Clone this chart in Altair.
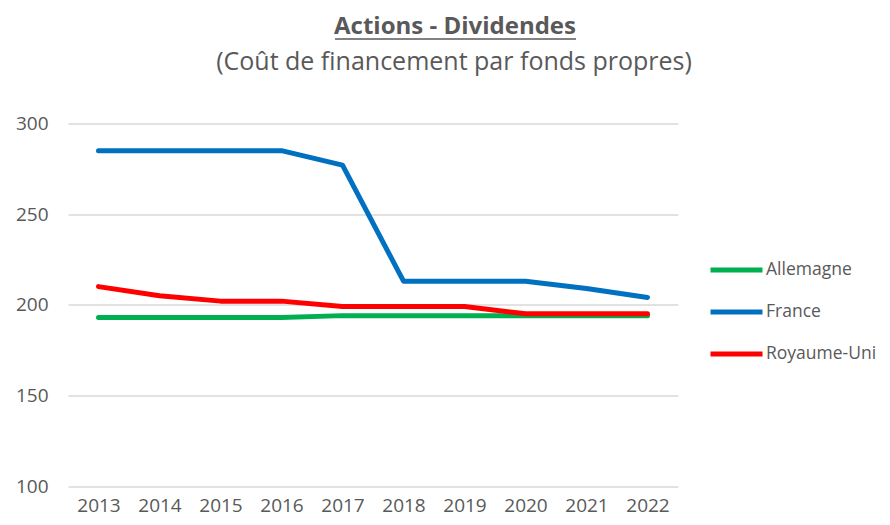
import altair as alt
import pandas as pd

years = ["2013", "2014", "2015", "2016", "2017", "2018", "2019", "2020", "2021", "2022"]
allemagne = [193, 193, 193, 193, 194, 194, 194, 194, 194, 194]
france = [285, 285, 285, 285, 277, 213, 213, 213, 209, 204]
royaume_uni = [210, 205, 202, 202, 199, 199, 199, 195, 195, 195]

series = ["Allemagne", "France", "Royaume-Uni"]
colors = ["#00B050", "#0070C0", "#FF0000"]
title_text = "Actions - Dividendes"
subtitle_text = "(Coût de financement par fonds propres)"

rows = []
for name, vals in zip(series, [allemagne, france, royaume_uni]):
    for y, v in zip(years, vals):
        rows.append({"Année": y, "Valeur": v, "Pays": name})
df = pd.DataFrame(rows)

FONT = "Open Sans"
GREY = "#595959"

lines = alt.Chart(df).mark_line(strokeWidth=5, strokeCap="round", strokeJoin="round").encode(
    x=alt.X("Année:O", sort=years, scale=alt.Scale(paddingInner=0, paddingOuter=0.5),
            axis=alt.Axis(title=None, labelAngle=0, ticks=False, domain=False, grid=False,
                          labelFontSize=19, labelColor=GREY, labelFont=FONT,
                          labelBaseline="alphabetic", labelPadding=25)),
    y=alt.Y("Valeur:Q", scale=alt.Scale(domain=[100, 300], nice=False, zero=False),
            axis=alt.Axis(title=None, values=[100, 150, 200, 250, 300], ticks=False, domain=False,
                          gridColor="#D9D9D9", gridWidth=1.5, labelFontSize=19, labelColor=GREY,
                          labelFont=FONT, labelPadding=20)),
    color=alt.Color("Pays:N", scale=alt.Scale(domain=series, range=colors),
                    legend=alt.Legend(title=None, orient="none", legendX=653, legendY=131,
                                      symbolType="M-2,0H2", symbolSize=676, symbolStrokeWidth=5,
                                      labelOffset=14, labelFontSize=17.5, labelColor=GREY,
                                      labelFont=FONT, rowPadding=16)),
)

one = pd.DataFrame({"t": [0]})
title = alt.Chart(one).mark_text(font=FONT, fontSize=24, fontWeight="bold", color=GREY,
                                 align="center", baseline="alphabetic").encode(
    x=alt.value(387), y=alt.value(-90), text=alt.value(title_text)
)
subtitle = alt.Chart(one).mark_text(font=FONT, fontSize=25, color=GREY,
                                    align="center", baseline="alphabetic").encode(
    x=alt.value(386), y=alt.value(-54), text=alt.value(subtitle_text)
)
underline = alt.Chart(one).mark_rule(color=GREY, strokeWidth=1.5).encode(
    x=alt.value(267), x2=alt.value(508), y=alt.value(-84.5)
)

chart = alt.layer(lines, title, subtitle, underline).properties(
    width=610,
    height=362.5,
    autosize=alt.AutoSizeParams(type="none"),
    padding={"left": 60, "top": 115.5, "right": 204, "bottom": 31},
).configure_view(stroke=None)

chart.save("out.html", embed_options={"renderer": "svg", "actions": False})
